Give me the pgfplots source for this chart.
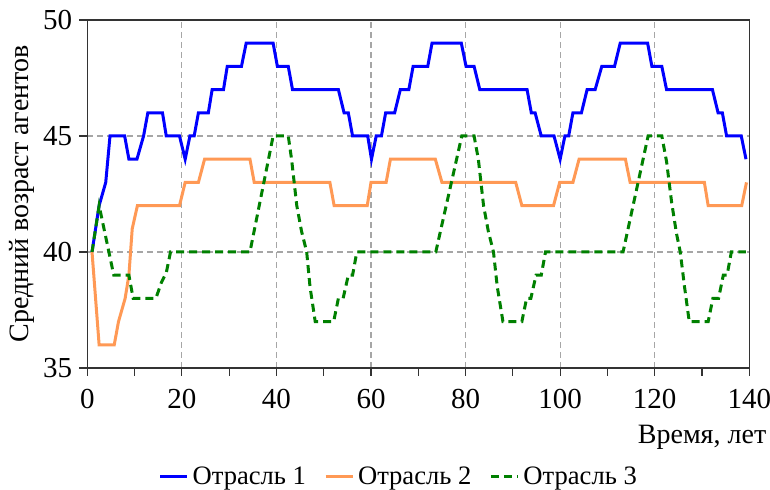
\documentclass[border=0pt]{standalone}
\usepackage{fontspec}
\setmainfont{Liberation Serif}
\usepackage{pgfplots}
\pgfplotsset{compat=1.18}
\definecolor{c1}{RGB}{0,0,255}
\definecolor{c2}{RGB}{255,153,85}
\definecolor{c3}{RGB}{0,128,0}
\begin{document}
\begin{tikzpicture}
\begin{axis}[
  at={(0,0)}, anchor=south west,
  scale only axis, width=331pt, height=174pt,
  xmin=0, xmax=140, ymin=35, ymax=50,
  xtick={0,20,...,140}, minor xtick={10,30,...,130},
  ytick={35,40,45,50},
  tick align=outside, xtick pos=left, ytick pos=left,
  major tick length=4pt, minor tick length=4pt,
  grid=major,
  major grid style={black!35, dash pattern=on 3pt off 2pt, line width=0.6pt},
  axis line style={line width=0.6pt, black!80},
  tick style={black!80, line width=0.6pt},
  /pgf/number format/assume math mode=true,
  tick label style={font=\fontsize{14.5}{16}\selectfont},
  xticklabel style={yshift=-3pt},
  xlabel={Время, лет},
  ylabel={Средний возраст агентов},
  label style={font=\fontsize{14}{16}\selectfont},
  xlabel style={at={(axis description cs:1,0)}, anchor=east, xshift=12pt, yshift=-34.5pt},
  ylabel style={at={(axis description cs:0,0.5)}, anchor=center, yshift=32.6pt},
  legend style={at={(0.472,0)}, anchor=center, yshift=-54.5pt, draw=none, fill=none,
    legend columns=3, font=\fontsize{13.3}{15}\selectfont,
    /tikz/every even column/.append style={column sep=7pt}},
  legend image code/.code={\draw[#1] (0pt,0pt) -- (13.5pt,0pt);},
  legend cell align=left,
]
\addplot[c1, line width=1.5pt] coordinates {
(1,40) (2.5,42) (3.9,43) (4.8,45) (7.9,45) (8.8,44) (10.5,44) (11.9,45) (12.8,46) (15.9,46) (16.7,45) (19.5,45) (20.7,44) (21.7,45) (22.6,45) (23.5,46) (25.6,46) (26.4,47) (28.8,47) (29.6,48) (32.6,48) (33.6,49) (39.3,49) (40.2,48) (42.5,48) (43.4,47) (53.1,47) (54.3,46) (55.2,46) (56.1,45) (59.3,45) (60.1,44) (61.1,45) (62.2,45) (63.1,46) (65,46) (66.2,47) (68,47) (68.9,48) (72,48) (72.9,49) (79.1,49) (80.1,48) (81.8,48) (83,47) (93,47) (93.9,46) (94.7,46) (96,45) (98.7,45) (100,44) (101,45) (101.8,45) (102.7,46) (104.5,46) (105.7,47) (107.4,47) (108.8,48) (111.5,48) (112.7,49) (118.5,49) (119.4,48) (121.5,48) (122.5,47) (132.2,47) (133.4,46) (134.3,46) (135.2,45) (138.3,45) (139.3,44)
};
\addlegendentry{Отрасль 1}
\addplot[c2, line width=1.5pt] coordinates {
(1,40) (2.5,36) (5.7,36) (6.6,37) (8,38) (8.8,39) (9.5,41) (10.6,42) (19.5,42) (20.7,43) (23.5,43) (24.8,44) (34.4,44) (35.3,43) (51.3,43) (52.2,42) (59.2,42) (60,43) (63.2,43) (64.1,44) (73.6,44) (75,43) (90.6,43) (91.9,42) (98.6,42) (99.9,43) (102.7,43) (104,44) (113.8,44) (114.8,43) (130.5,43) (131.3,42) (138.4,42) (139.4,43)
};
\addlegendentry{Отрасль 2}
\addplot[c3, line width=1.5pt, dash pattern=on 4pt off 2.5pt] coordinates {
(1,40) (2.5,42) (5.6,39) (8.8,39) (9.7,38) (14.5,38) (15.7,38.7) (16.7,39.1) (17.6,40) (34.4,40) (39.3,45) (42.5,45) (43.2,44) (44.3,42) (45.3,40.9) (46.4,40) (47.1,38.5) (48.2,37) (52.1,37) (53.1,38) (54.1,38) (55.2,39) (56.1,39) (57,40) (73.7,40) (79.2,45) (81.8,45) (82.7,44) (83.8,42) (84.8,40.9) (85.9,40) (86.7,38.5) (87.9,37) (91.9,37) (92.9,38) (93.8,38) (94.9,39) (96,39) (96.9,40) (113.3,40) (118.6,45) (121.5,45) (122.5,43.9) (123.6,42.1) (124.6,40.8) (125.4,40) (126.3,38.5) (127.3,37) (131.3,37) (132.3,38) (133.5,38) (134.5,39) (135.3,39) (136.2,40) (139.3,40)
};
\addlegendentry{Отрасль 3}
\end{axis}
\pgfresetboundingbox
\path (-43.65pt,-61pt) rectangle (341.35pt,184pt);
\end{tikzpicture}
\end{document}
